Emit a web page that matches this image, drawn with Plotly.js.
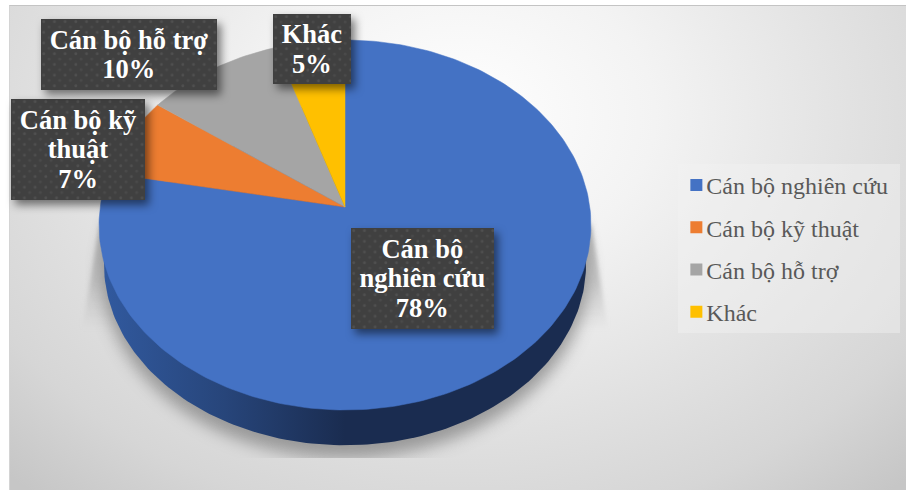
<!DOCTYPE html>
<html>
<head>
<meta charset="utf-8">
<script src="https://cdn.plot.ly/plotly-3.0.1.min.js"></script>
<style>
  html, body { margin: 0; padding: 0; background: #fff; }
  #stage { position: relative; width: 906px; height: 491px; overflow: hidden; }
  #panel {
    position: absolute; left: 9px; top: 5px; width: 897px; height: 485px;
    border-top: 1.5px solid #c4c4c4; border-left: 1px solid #d4d4d4; box-sizing: border-box;
    background: radial-gradient(ellipse 650px 500px at 450px 110px, #ffffff 0%, #f3f3f3 30%, #e2e2e2 60%, #d6d6d6 82%, #c6c6c6 100%);
  }
  #shade { position: absolute; left: 0; top: 0; }
  #chart { position: absolute; left: 0; top: 0; width: 906px; height: 491px; }
  .annotation rect.bg { fill: url(#dots) !important; filter: drop-shadow(4px 5px 4px rgba(0,0,0,0.5)); }
</style>
</head>
<body>
<div id="stage">
  <div id="panel"></div>
  <svg id="shade" width="906" height="491">
    <defs>
      <pattern id="dots" width="10.7" height="10.7" patternUnits="userSpaceOnUse">
        <rect width="10.7" height="10.7" fill="#404040"/>
        <circle cx="2.7" cy="2.7" r="1.4" fill="#505050"/>
        <circle cx="8" cy="8" r="1.4" fill="#4a4a4a"/>
      </pattern>
      <linearGradient id="fade" x1="0" y1="0" x2="0" y2="1">
        <stop offset="0" stop-color="#9a9a9a" stop-opacity="0.75"/>
        <stop offset="0.55" stop-color="#a8a8a8" stop-opacity="0.55"/>
        <stop offset="1" stop-color="#b4b4b4" stop-opacity="0"/>
      </linearGradient>
      <filter id="soft" x="-20%" y="-20%" width="140%" height="140%"><feGaussianBlur stdDeviation="8"/></filter>
      <filter id="softer" x="-40%" y="-20%" width="180%" height="140%"><feGaussianBlur stdDeviation="2"/></filter>
      <clipPath id="floor"><rect x="0" y="0" width="906" height="458"/></clipPath>
    </defs>
    <g clip-path="url(#floor)">
      <path d="M100 222 L82 330 L135 330 Z" fill="url(#fade)" filter="url(#softer)"/>
      <path d="M591 222 L608 330 L555 330 Z" fill="url(#fade)" filter="url(#softer)"/>
      <ellipse cx="345" cy="272" rx="243" ry="186" fill="#858585" opacity="0.78" filter="url(#soft)"/>
    </g>
  </svg>
  <div id="chart"></div>
</div>
<script>
// Staff composition, percent of total
const categories = ['Cán bộ nghiên cứu', 'Cán bộ kỹ thuật', 'Cán bộ hỗ trợ', 'Khác'];
const shares = [78, 7, 10, 5];
const sliceColors = ['#4472C4', '#ED7D31', '#A5A5A5', '#FFC000'];
const labelLines = [['Cán bộ', 'nghiên cứu'], ['Cán bộ kỹ', 'thuật'], ['Cán bộ hỗ trợ'], ['Khác']];
const labelBoxes = [[351, 494, 228, 329], [11, 145, 99, 200], [41, 217, 19, 90], [273, 351, 14, 84]];

// Tilted disc: perspective projection of a unit circle into page-sized axes
const cx = 345, apexY = 207, tilt = 0.0973, spanX = 244.8, spanY = 163.1;
function top3d(u, v) {
  const w = 1 - tilt * v;
  return [cx + spanX * u / w, (spanY * v + apexY) / w];
}
function base3d(u, v) {
  const p = top3d(u, v);
  return [cx + (p[0] - cx) * 0.98, 264 + (p[1] - 225) * 0.98];
}
function arc(from, to, project) {
  const pts = [];
  const n = Math.max(8, Math.round((to - from) * 3));
  for (let i = 0; i <= n; i++) {
    const a = (from + (to - from) * i / n) / 100 * 2 * Math.PI;
    pts.push(project(Math.sin(a), -Math.cos(a)));
  }
  return pts;
}

const traces = [];
// Rim of the first slice, the only one facing the viewer
const rim = arc(0, shares[0], base3d);
traces.push({
  type: 'scatter', mode: 'lines', x: rim.map(p => p[0]), y: rim.map(p => p[1]),
  fill: 'toself', line: { width: 0 }, hoverinfo: 'skip', showlegend: false,
  fillgradient: {
    type: 'horizontal', start: 105, stop: 345,
    colorscale: [[0, '#31599E'], [0.5, '#27457A'], [1, '#1A2C50']]
  }
});
// Top face slices
let running = 0;
categories.forEach((name, i) => {
  const pts = arc(running, running + shares[i], top3d);
  pts.unshift(top3d(0, 0));
  pts.push(top3d(0, 0));
  traces.push({
    type: 'scatter', mode: 'lines', x: pts.map(p => p[0]), y: pts.map(p => p[1]),
    fill: 'toself', fillcolor: sliceColors[i], line: { width: 0.5, color: sliceColors[i] },
    hoverinfo: 'text', text: name + ': ' + shares[i] + '%', showlegend: false
  });
  running += shares[i];
});
// Legend entries
categories.forEach((name, i) => {
  traces.push({
    type: 'scatter', mode: 'markers', x: [null], y: [null], name: name, legendgroup: name,
    marker: { symbol: 'square', size: 12, color: sliceColors[i] }, hoverinfo: 'skip'
  });
});

const annotations = categories.map((name, i) => {
  const b = labelBoxes[i];
  return {
    xref: 'x', yref: 'y', x: (b[0] + b[1]) / 2, y: (b[2] + b[3]) / 2,
    xanchor: 'center', yanchor: 'middle', showarrow: false,
    width: b[1] - b[0], height: b[3] - b[2], borderpad: 0, borderwidth: 0,
    bgcolor: '#404040', align: 'center',
    font: { family: '"Liberation Serif", serif', size: 26.5, color: '#ffffff', weight: 700 },
    text: labelLines[i].concat(shares[i] + '%').join('<br>')
  };
});

const layout = {
  width: 906, height: 491, margin: { l: 0, r: 0, t: 0, b: 0 },
  paper_bgcolor: 'rgba(0,0,0,0)', plot_bgcolor: 'rgba(0,0,0,0)',
  xaxis: { range: [0, 906], visible: false, fixedrange: true },
  yaxis: { range: [491, 0], visible: false, fixedrange: true },
  shapes: [{
    type: 'rect', xref: 'x', yref: 'y', x0: 678, x1: 900, y0: 164, y1: 333,
    fillcolor: 'rgba(242,242,242,0.45)', line: { width: 0 }, layer: 'below'
  }],
  annotations: annotations,
  showlegend: true,
  legend: {
    x: 0.7355, y: 0.668, xanchor: 'left', yanchor: 'top', bgcolor: 'rgba(0,0,0,0)',
    traceorder: 'grouped', tracegroupgap: 8, itemclick: false, itemdoubleclick: false,
    font: { family: '"Liberation Serif", serif', size: 24, color: '#595959' }
  }
};

Plotly.newPlot('chart', traces, layout, { displayModeBar: false }).then(gd => {
  // Bring the swatches closer to their legend text
  gd.querySelectorAll('.legend .legendsymbols').forEach(s => s.setAttribute('transform', 'translate(10,0)'));
  // Tighter line pitch inside the value labels, kept centred in each box
  gd.querySelectorAll('.annotation text').forEach(t => {
    const lines = t.querySelectorAll('tspan.line');
    lines.forEach((l, i) => l.setAttribute('dy', (i * 1.13 + (lines.length - 1) * 0.085) + 'em'));
  });
});
</script>
</body>
</html>
